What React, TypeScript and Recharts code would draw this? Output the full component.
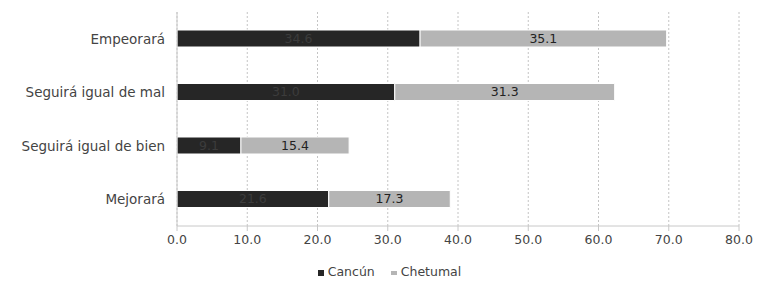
import React from 'react';
import { BarChart, Bar, XAxis, YAxis, CartesianGrid, LabelList, Legend } from 'recharts';

const categories = ['Empeorará', 'Seguirá igual de mal', 'Seguirá igual de bien', 'Mejorará'];
const cancun = [34.6, 31.0, 9.1, 21.6];
const chetumal = [35.1, 31.3, 15.4, 17.3];
const xTicks = [0, 10, 20, 30, 40, 50, 60, 70, 80];

const data = categories.map((name, i) => ({ name, cancun: cancun[i], chetumal: chetumal[i] }));

const FONT = '"DejaVu Sans", sans-serif';

const fmt = (v: any) => Number(v).toFixed(1);

const LegendBox = () => (
  <div style={{ textAlign: 'center', fontFamily: FONT, fontSize: 12.5, color: '#444', paddingLeft: 40, paddingTop: 4 }}>
    <span style={{ marginRight: 16 }}>
      <span style={{ display: 'inline-block', width: 6, height: 6, background: '#262626', marginRight: 4, verticalAlign: 'middle' }} />
      Cancún
    </span>
    <span>
      <span style={{ display: 'inline-block', width: 6, height: 4, background: '#b5b5b5', marginRight: 4, verticalAlign: 'middle' }} />
      Chetumal
    </span>
  </div>
);

const App: React.FC = () => {
  return (
    <div style={{ width: 759, height: 281 }}>
      <style>{'body{margin:0;background:#fff}'}</style>
      <BarChart
        width={759}
        height={281}
        data={data}
        layout="vertical"
        margin={{ top: 12, right: 20, bottom: 2, left: 0 }}
        barCategoryGap={18}
      >
        <CartesianGrid horizontal={false} stroke="#c4c4c4" strokeDasharray="2 2" />
        <XAxis
          type="number"
          domain={[0, 80]}
          ticks={xTicks}
          tickFormatter={fmt}
          axisLine={{ stroke: '#c8c8c8' }}
          tickLine={{ stroke: '#c8c8c8' }}
          tickSize={5}
          tick={{ fontFamily: FONT, fontSize: 12.5, fill: '#444', dy: 2 }}
          height={34}
        />
        <YAxis
          type="category"
          dataKey="name"
          width={177}
          axisLine={{ stroke: '#c8c8c8' }}
          tickLine={false}
          tick={{ fontFamily: FONT, fontSize: 13.5, fill: '#444', dx: -4 }}
        />
        <Legend verticalAlign="bottom" content={() => <LegendBox />} />
        <Bar dataKey="cancun" stackId="a" fill="#262626" stroke="#fff" strokeWidth={1} barSize={17} isAnimationActive={false}>
          <LabelList dataKey="cancun" position="center" formatter={fmt} style={{ fontFamily: FONT, fontSize: 12.5, fill: '#3c3c3c' }} />
        </Bar>
        <Bar dataKey="chetumal" stackId="a" fill="#b5b5b5" stroke="#fff" strokeWidth={1} barSize={17} isAnimationActive={false}>
          <LabelList dataKey="chetumal" position="center" formatter={fmt} style={{ fontFamily: FONT, fontSize: 12.5, fill: '#222' }} />
        </Bar>
      </BarChart>
    </div>
  );
};

export default App;
